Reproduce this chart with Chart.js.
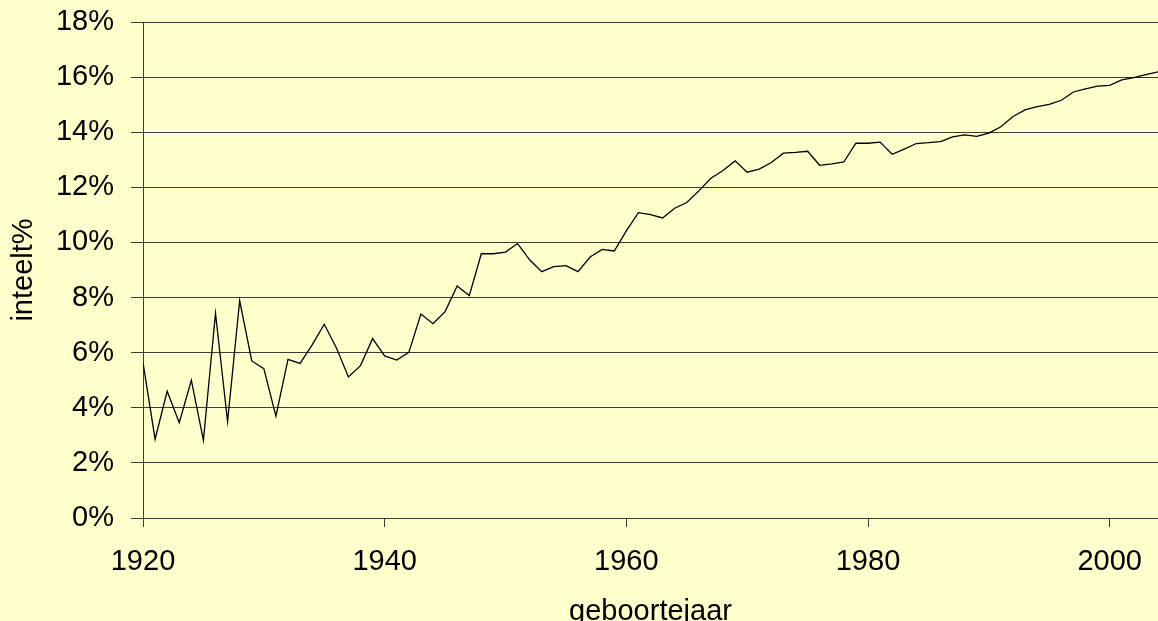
<!DOCTYPE html>
<html>
<head>
<meta charset="utf-8">
<script src="https://cdn.jsdelivr.net/npm/chart.js@4/dist/chart.umd.min.js"></script>
<style>
    body { margin: 0; background: #ffffcc; }
    #wrap { width: 1158px; height: 621px; }
</style>
</head>
<body>
<div id="wrap"><canvas id="inteeltChart" width="1158" height="621"></canvas></div>
<script>
// geboortejaar
const years = [
    1920, 1921, 1922, 1923, 1924, 1925, 1926, 1927, 1928, 1929,
    1930, 1931, 1932, 1933, 1934, 1935, 1936, 1937, 1938, 1939,
    1940, 1941, 1942, 1943, 1944, 1945, 1946, 1947, 1948, 1949,
    1950, 1951, 1952, 1953, 1954, 1955, 1956, 1957, 1958, 1959,
    1960, 1961, 1962, 1963, 1964, 1965, 1966, 1967, 1968, 1969,
    1970, 1971, 1972, 1973, 1974, 1975, 1976, 1977, 1978, 1979,
    1980, 1981, 1982, 1983, 1984, 1985, 1986, 1987, 1988, 1989,
    1990, 1991, 1992, 1993, 1994, 1995, 1996, 1997, 1998, 1999,
    2000, 2001, 2002, 2003, 2004
];
// inteelt% per jaar
const inteelt = [
    5.64, 2.86, 4.60, 3.46, 5.00, 2.82, 7.43, 3.50, 7.89, 5.70,
    5.42, 3.70, 5.76, 5.61, 6.28, 7.03, 6.18, 5.12, 5.53, 6.51,
    5.88, 5.73, 6.01, 7.40, 7.05, 7.49, 8.42, 8.07, 9.59, 9.59,
    9.65, 9.96, 9.37, 8.94, 9.12, 9.16, 8.94, 9.47, 9.75, 9.69,
    10.42, 11.08, 11.01, 10.89, 11.24, 11.45, 11.87, 12.33, 12.61, 12.96,
    12.55, 12.66, 12.90, 13.24, 13.27, 13.31, 12.80, 12.85, 12.92, 13.60,
    13.60, 13.64, 13.20, 13.39, 13.59, 13.62, 13.66, 13.83, 13.90, 13.85,
    13.97, 14.20, 14.57, 14.81, 14.93, 15.01, 15.16, 15.46, 15.57, 15.67,
    15.70, 15.90, 15.98, 16.09, 16.19
];
const xTicks = [1920, 1940, 1960, 1980, 2000];
const yTicks = [0, 2, 4, 6, 8, 10, 12, 14, 16, 18];

const font = { family: "'Liberation Sans', Arial, sans-serif", size: 29 };
const lineCol = '#3a3a3a';

window.onload = function () {
    const ctx = document.getElementById('inteeltChart');
    const data = {
        datasets: [{
            label: 'inteelt%',
            data: years.map((y, i) => ({ x: y, y: inteelt[i] })),
            borderColor: '#000',
            borderWidth: 1.3,
            pointRadius: 0,
            tension: 0,
            fill: false
        }]
    };
    const config = {
        type: 'line',
        data: data,
        options: {
            responsive: false,
            animation: false,
            layout: { padding: { top: 22, right: 0, left: 0, bottom: 0 } },
            plugins: {
                legend: { display: false },
                tooltip: { enabled: false }
            },
            scales: {
                x: {
                    type: 'linear',
                    min: 1920,
                    max: 2004,
                    afterBuildTicks: (scale) => {
                        scale.ticks = xTicks.map(v => ({ value: v }));
                    },
                    afterFit: (scale) => {
                        scale.height = 103;
                        scale.paddingLeft = 0;
                        scale.paddingRight = 0;
                    },
                    grid: {
                        drawOnChartArea: false,
                        color: lineCol,
                        tickLength: 9
                    },
                    border: { color: lineCol, width: 1 },
                    ticks: {
                        color: '#000',
                        font: font,
                        padding: 18,
                        maxRotation: 0,
                        callback: (v) => String(v)
                    },
                    title: {
                        display: true,
                        text: 'geboortejaar',
                        color: '#000',
                        font: font,
                        padding: { top: 0, bottom: -8 }
                    }
                },
                y: {
                    min: 0,
                    max: 18,
                    afterBuildTicks: (scale) => {
                        scale.ticks = yTicks.map(v => ({ value: v }));
                    },
                    afterFit: (scale) => {
                        scale.width = 143;
                        scale.paddingTop = 0;
                        scale.paddingBottom = 0;
                    },
                    grid: {
                        color: lineCol,
                        tickLength: 12
                    },
                    border: { color: lineCol, width: 1 },
                    ticks: {
                        color: '#000',
                        font: font,
                        padding: 17,
                        callback: (v) => v + '%'
                    },
                    title: {
                        display: true,
                        text: 'inteelt%',
                        color: '#000',
                        font: font,
                        padding: { top: 7, bottom: 0 }
                    }
                }
            }
        }
    };
    new Chart(ctx, config);
};
</script>
</body>
</html>
